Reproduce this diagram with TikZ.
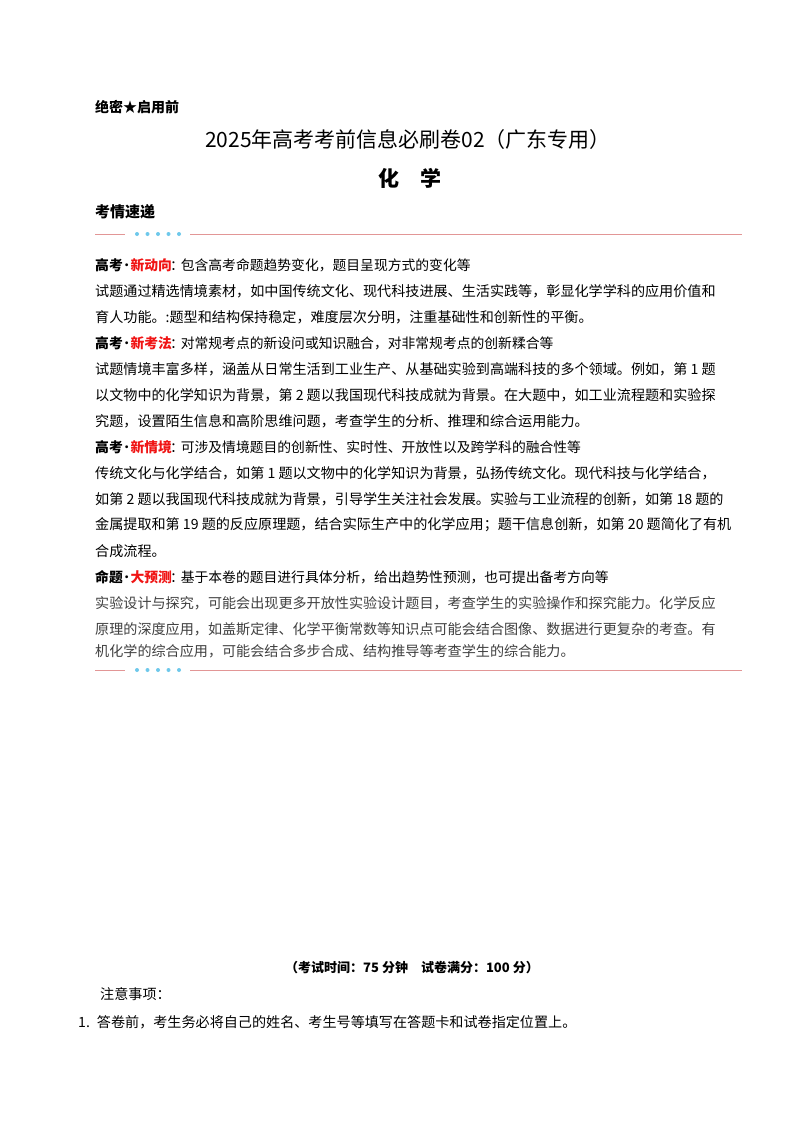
\documentclass[tikz,border=0pt]{standalone}
\usepackage{fontspec}
\setmainfont{Noto Sans CJK SC}
\definecolor{pinkl}{RGB}{226,150,150}
\definecolor{dotb}{RGB}{110,200,235}
\definecolor{redh}{RGB}{240,20,20}
\begin{document}
\begin{tikzpicture}[x=1pt,y=-1pt,
  ln/.style={anchor=west,inner sep=0pt,font=\fontsize{14.1}{15}\selectfont},
  gl/.style={ln,text=black!75},
  hd/.style={anchor=west,inner sep=0pt,font=\fontsize{13.8}{15}\selectfont}]
\useasboundingbox[fill=white] (0,0) rectangle (800,1132);
\newcommand{\hdr}[3]{{\bfseries #1}\kern-3pt·\kern-3pt{\bfseries\color{redh}#2}\kern-2pt：\kern-3pt#3}
\node[anchor=west,inner sep=0pt,font=\fontsize{14}{15}\selectfont\bfseries] (secret) at (95,107) {绝密★启用前};
\node[inner sep=0pt,font=\fontsize{21}{22}\selectfont] (title) at (408,140) {2025年高考考前信息必刷卷02（广东专用）};
\node[inner sep=0pt,font=\fontsize{21}{22}\selectfont\bfseries] (subj) at (410,178) {化\quad 学};
\node[anchor=west,inner sep=0pt,font=\fontsize{15}{16}\selectfont\bfseries] (kq) at (95,212) {考情速递};
\foreach \yy/\nm in {234/sepa,670/sepb}{
  \draw[pinkl,line width=1pt] (95,\yy) -- (125,\yy);
  \foreach \i in {0,...,4} \fill[dotb] (137+\i*10.5,\yy) circle (2);
  \draw[pinkl,line width=1pt] (190,\yy) -- (742,\yy);
}
\node[hd] (h1) at (95,265) {\hdr{高考}{新动向}{包含高考命题趋势变化，题目呈现方式的变化等}};
\node[ln] (l1) at (95,291) {试题通过精选情境素材，如中国传统文化、现代科技进展、生活实践等，彰显化学学科的应用价值和};
\node[ln] (l2) at (95,317) {育人功能。:题型和结构保持稳定，难度层次分明，注重基础性和创新性的平衡。};
\node[hd] (h2) at (95,343) {\hdr{高考}{新考法}{对常规考点的新设问或知识融合，对非常规考点的创新糅合等}};
\node[ln] (l3) at (95,369) {试题情境丰富多样，涵盖从日常生活到工业生产、从基础实验到高端科技的多个领域。例如，第 1 题};
\node[ln] (l4) at (95,395) {以文物中的化学知识为背景，第 2 题以我国现代科技成就为背景。在大题中，如工业流程题和实验探};
\node[ln] (l5) at (95,421) {究题，设置陌生信息和高阶思维问题，考查学生的分析、推理和综合运用能力。};
\node[hd] (h3) at (95,447) {\hdr{高考}{新情境}{可涉及情境题目的创新性、实时性、开放性以及跨学科的融合性等}};
\node[ln] (l6) at (95,473) {传统文化与化学结合，如第 1 题以文物中的化学知识为背景，弘扬传统文化。现代科技与化学结合，};
\node[ln] (l7) at (95,499) {如第 2 题以我国现代科技成就为背景，引导学生关注社会发展。实验与工业流程的创新，如第 18 题的};
\node[ln] (l8) at (95,525) {金属提取和第 19 题的反应原理题，结合实际生产中的化学应用；题干信息创新，如第 20 题简化了有机};
\node[ln] (l9) at (95,551) {合成流程。};
\node[hd] (h4) at (95,577) {\hdr{命题}{大预测}{基于本卷的题目进行具体分析，给出趋势性预测，也可提出备考方向等}};
\node[gl] (l10) at (95,603) {实验设计与探究，可能会出现更多开放性实验设计题目，考查学生的实验操作和探究能力。化学反应};
\node[gl] (l11) at (95,629) {原理的深度应用，如盖斯定律、化学平衡常数等知识点可能会结合图像、数据进行更复杂的考查。有};
\node[gl] (l12) at (95,651) {机化学的综合应用，可能会结合多步合成、结构推导等考查学生的综合能力。};
\node[inner sep=0pt,font=\fontsize{13}{14}\selectfont\bfseries] (time) at (412,968) {（考试时间：75 分钟\quad 试卷满分：100 分）};
\node[ln] (note) at (100,994) {注意事项：};
\node[ln] (n1) at (78,1022) {1.\enspace 答卷前，考生务必将自己的姓名、考生号等填写在答题卡和试卷指定位置上。};
\end{tikzpicture}
\end{document}
